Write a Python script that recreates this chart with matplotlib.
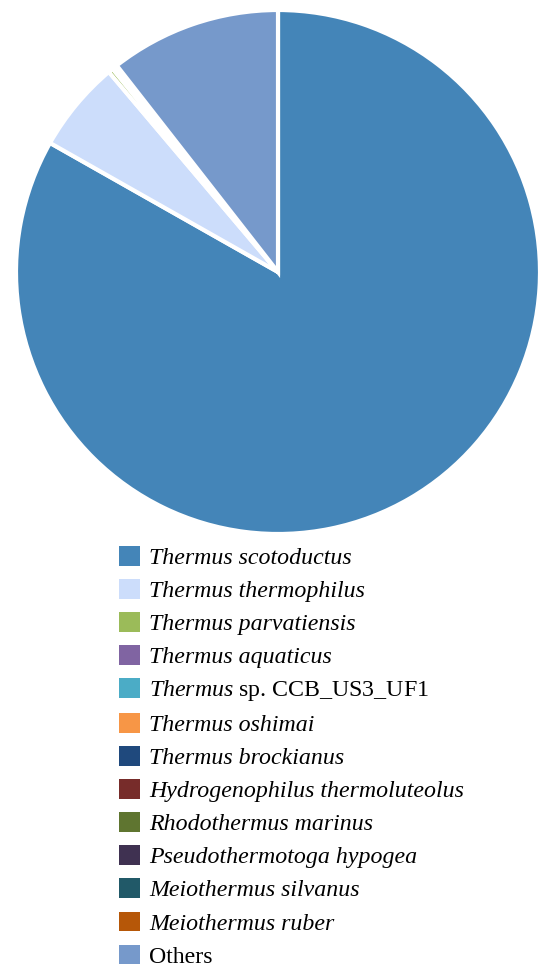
import matplotlib.pyplot as plt
from matplotlib.patches import Patch

plt.rcParams['font.family'] = ['Liberation Serif', 'DejaVu Serif']
plt.rcParams['mathtext.fontset'] = 'custom'
plt.rcParams['mathtext.rm'] = 'Liberation Serif'
plt.rcParams['mathtext.it'] = 'Liberation Serif:italic'

# species share of reads (%)
species = ["Thermus scotoductus", "Thermus thermophilus", "Thermus parvatiensis",
           "Thermus aquaticus", "Thermus sp. CCB_US3_UF1", "Thermus oshimai",
           "Thermus brockianus", "Hydrogenophilus thermoluteolus",
           "Rhodothermus marinus", "Pseudothermotoga hypogea",
           "Meiothermus silvanus", "Meiothermus ruber", "Others"]
shares = [82.8, 5.6, 0.3, 0.06, 0.05, 0.04, 0.04, 0.03, 0.03, 0.03, 0.02, 0.02, 10.5]
colors = ["#4485B8", "#CCDDFB", "#9BBB59", "#8064A2", "#4BACC6", "#F79646",
          "#1F497D", "#772C2A", "#5F7530", "#3F3151", "#215968", "#B65708",
          "#7699CB"]

fig = plt.figure(figsize=(5.39, 9.66), dpi=100)
ax = fig.add_axes([16 / 539, 1 - 534 / 966, 524 / 539, 524 / 966])
ax.pie(shares, colors=colors, startangle=90, counterclock=False,
       wedgeprops=dict(edgecolor="white", linewidth=3))
ax.set_xlim(-1, 1)
ax.set_ylim(-1, 1)
ax.set_aspect("equal")
ax.axis("off")

labels = []
for name in species:
    if name.startswith("Thermus sp."):
        labels.append(r"$\it{Thermus}$" + name[len("Thermus"):])
    else:
        labels.append(name)
handles = [Patch(facecolor=c, edgecolor="none") for c in colors]

leg = fig.legend(handles, labels, loc="upper left",
                 bbox_to_anchor=(119 / 539, 1 - 546 / 966),
                 frameon=False, fontsize=17.2, handlelength=0.88,
                 handleheight=0.88, handletextpad=0.38, labelspacing=0.42,
                 borderpad=0, borderaxespad=0)
for t, name in zip(leg.get_texts(), species):
    if name != "Others" and not name.startswith("Thermus sp."):
        t.set_fontstyle("italic")

fig.savefig("out.png", dpi=100)
